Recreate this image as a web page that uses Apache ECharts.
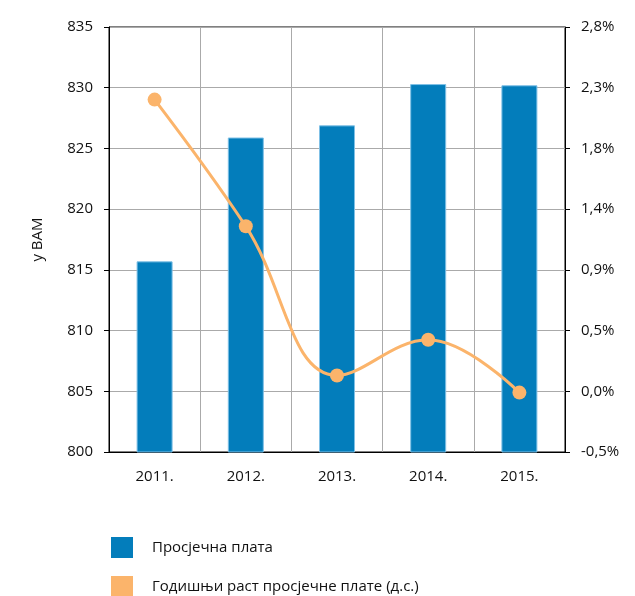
<!DOCTYPE html>
<html>
<head>
<meta charset="utf-8">
<script src="https://cdn.jsdelivr.net/npm/echarts@6/dist/echarts.min.js"></script>
<style>
html,body{margin:0;padding:0;background:#fff;}
#main{width:635px;height:596px;}
</style>
</head>
<body>
<div id="main"></div>
<script>
var years = ['2011.', '2012.', '2013.', '2014.', '2015.'];
var avgWage = [815.7, 825.9, 826.9, 830.3, 830.2];
var wageGrowth = [2.21, 1.25, 0.12, 0.39, -0.01];
var seriesNames = ['Просјечна плата', 'Годишњи раст просјечне плате (д.с.)'];

var font = '"Open Sans", "Noto Sans", sans-serif';

var myChart = echarts.init(document.getElementById('main'));

function legendAt(top, name) {
	return {
		orient: 'vertical',
		left: 111, top: top,
		padding: 0,
		itemWidth: 22, itemHeight: 21,
		itemStyle: { borderWidth: 0 },
		textStyle: { fontSize: 15, color: '#111', fontFamily: font, padding: [0, 0, 0, 14] },
		data: [{ name: name, icon: 'rect' }]
	};
}

var option = {
	animation: false,
	textStyle: { fontFamily: font },
	grid: {
		left: 109, right: 70, top: 27, bottom: 144,
		show: true, borderColor: '#000', borderWidth: 1
	},
	legend: [legendAt(537, seriesNames[0]), legendAt(576, seriesNames[1])],
	xAxis: {
		type: 'category',
		data: years,
		axisLine: { onZero: false, lineStyle: { color: '#000' } },
		axisTick: { show: false },
		axisLabel: { color: '#111', fontSize: 15, margin: 17 },
		splitLine: { show: true, lineStyle: { color: '#aaa' } }
	},
	yAxis: [{
		type: 'value',
		min: 800, max: 835, interval: 5,
		name: 'у BAM',
		nameLocation: 'middle',
		nameGap: 64,
		nameTextStyle: { fontSize: 15, color: '#111' },
		axisLine: { show: true, lineStyle: { color: '#000' } },
		axisTick: { show: true, length: 5, lineStyle: { color: '#000' } },
		axisLabel: { color: '#111', fontSize: 15, margin: 16 },
		splitLine: { lineStyle: { color: '#aaa' } }
	}, {
		type: 'value',
		min: -0.46, max: 2.76, interval: 0.46,
		axisLine: { show: true, lineStyle: { color: '#000' } },
		axisTick: { show: true, length: 5, lineStyle: { color: '#000' } },
		axisLabel: {
			color: '#111', fontSize: 15, margin: 16,
			formatter: function(v) {
				if (Math.abs(v) < 1e-9) v = 0;
				return v.toFixed(1).replace('.', ',') + '%';
			}
		},
		splitLine: { show: false }
	}],
	series: [{
		name: seriesNames[0],
		type: 'bar',
		data: avgWage,
		barWidth: 36,
		itemStyle: { color: '#037dbb', borderColor: '#7fc0e6', borderWidth: 1 }
	}, {
		name: seriesNames[1],
		type: 'line',
		yAxisIndex: 1,
		data: wageGrowth,
		smooth: 0.4,
		symbol: 'circle',
		symbolSize: 14,
		lineStyle: { color: '#fbb46b', width: 3 },
		itemStyle: { color: '#fbb46b' }
	}]
};
myChart.setOption(option);
</script>
</body>
</html>
